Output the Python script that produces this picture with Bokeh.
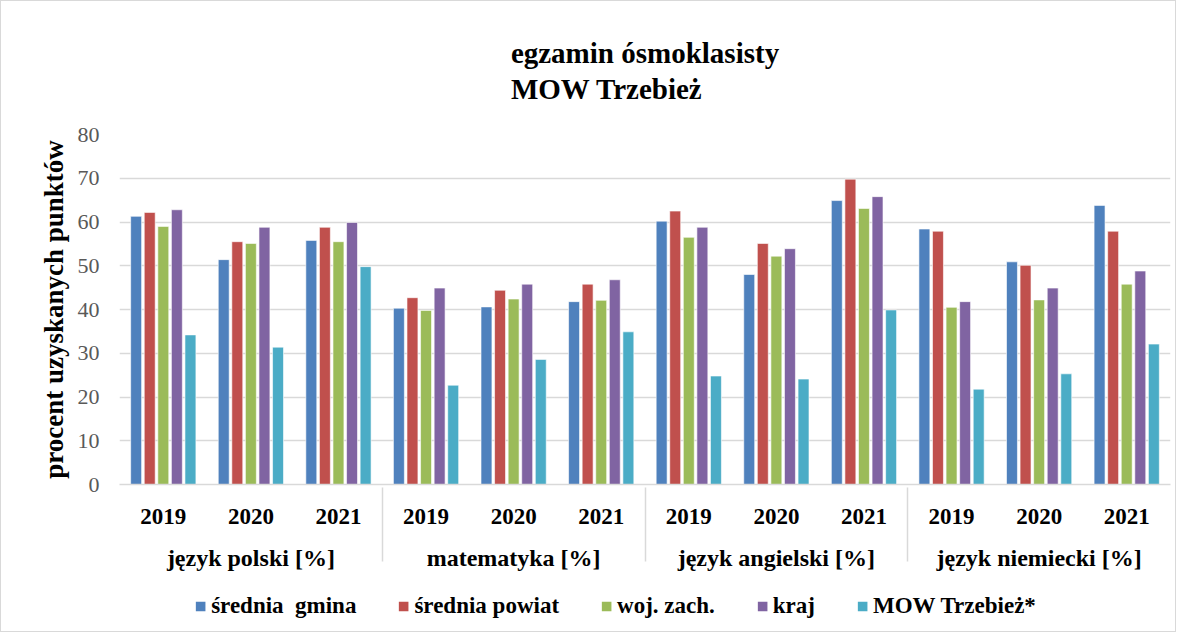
from bokeh.plotting import figure
from bokeh.models import FactorRange, ColumnDataSource, Legend, LegendItem, Title, FixedTicker, Range1d
from bokeh.layouts import column
from bokeh.transform import dodge
from bokeh.embed import file_html
from bokeh.resources import INLINE

subjects = ["język polski [%]", "matematyka [%]", "język angielski [%]", "język niemiecki [%]"]
years = ["2019", "2020", "2021"]
series_names = ["średnia  gmina", "średnia powiat", "woj. zach.", "kraj", "MOW Trzebież*"]
colors = ["#4F81BD", "#C0504D", "#9BBB59", "#8064A2", "#4BACC6"]

srednia_gmina = [61.3, 51.4, 55.8, 40.3, 40.6, 41.8, 60.2, 48.0, 64.9, 58.4, 50.9, 63.8]
srednia_powiat = [62.2, 55.5, 58.8, 42.7, 44.4, 45.8, 62.5, 55.1, 69.8, 57.9, 50.1, 57.9]
woj_zach = [59.0, 55.1, 55.5, 39.8, 42.4, 42.1, 56.5, 52.2, 63.1, 40.5, 42.2, 45.8]
kraj = [62.8, 58.8, 59.9, 44.9, 45.8, 46.8, 58.8, 53.9, 65.8, 41.8, 44.9, 48.8]
mow = [34.2, 31.4, 49.8, 22.7, 28.6, 34.9, 24.8, 24.1, 39.9, 21.8, 25.3, 32.1]

factors = [(s, y) for s in subjects for y in years]
values = [srednia_gmina, srednia_powiat, woj_zach, kraj, mow]
keys = ["g", "p", "w", "k", "m"]

data = {"x": factors}
for k, v in zip(keys, values):
    data[k] = v
src = ColumnDataSource(data)

SERIF = "Liberation Serif"

xr = FactorRange(*factors, group_padding=0, range_padding=0)
p = figure(x_range=xr, y_range=(0, 80), frame_width=1051, frame_height=350,
           output_backend="svg", toolbar_location=None,
           min_border_left=118, min_border_right=5, min_border_top=133, min_border_bottom=97)

offsets = [-0.31, -0.155, 0.0, 0.155, 0.31]
for k, c, off in zip(keys, colors, offsets):
    p.vbar(x=dodge("x", off, range=xr), top=k, width=0.125, source=src,
           fill_color=c, line_color="white", line_alpha=0.6, line_width=1)

p.add_layout(Title(text="egzamin ósmoklasisty\nMOW Trzebież", align="center", text_font=SERIF,
                   text_color="black", text_font_size="29px", text_font_style="bold",
                   text_line_height=1.15, standoff=58), "above")

p.outline_line_color = None

p.yaxis.ticker = FixedTicker(ticks=[0, 10, 20, 30, 40, 50, 60, 70, 80])
p.yaxis.axis_line_color = None
p.yaxis.major_tick_line_color = None
p.yaxis.minor_tick_line_color = None
p.yaxis.major_label_text_font = SERIF
p.yaxis.major_label_text_font_size = "22px"
p.yaxis.major_label_text_color = "#595959"
p.yaxis.major_label_standoff = 14
p.yaxis.axis_label = "procent uzyskanych punktów"
p.yaxis.axis_label_text_font = SERIF
p.yaxis.axis_label_text_font_size = "27px"
p.yaxis.axis_label_text_font_style = "bold"
p.yaxis.axis_label_text_color = "black"
p.yaxis.axis_label_standoff = 6

p.xaxis.axis_line_color = "#d9d9d9"
p.xaxis.axis_line_width = 1.5
p.xaxis.major_tick_line_color = None
p.xaxis.minor_tick_line_color = None
p.xaxis.major_label_text_font = SERIF
p.xaxis.major_label_text_font_size = "23px"
p.xaxis.major_label_text_font_style = "bold"
p.xaxis.major_label_text_color = "black"
p.xaxis.major_label_standoff = 18
p.xaxis.group_text_font = SERIF
p.xaxis.group_text_font_size = "24px"
p.xaxis.group_text_font_style = "bold"
p.xaxis.group_text_color = "black"
p.xaxis.separator_line_color = "#d9d9d9"
p.xaxis.separator_line_width = 1.5

p.xgrid.grid_line_color = None
p.ygrid.grid_line_color = "#d9d9d9"
p.ygrid.grid_line_width = 1.5

# legend strip below the chart (zero-width series renderers; only the legend shows)
p2 = figure(x_range=xr, y_range=Range1d(-20, -10), width=1174, height=50,
            output_backend="svg", toolbar_location=None,
            min_border_left=0, min_border_right=64, min_border_top=0, min_border_bottom=0)
p2.axis.visible = False
p2.grid.visible = False
p2.outline_line_color = None
leg_renderers = []
for k, c, off in zip(keys, colors, offsets):
    r = p2.vbar(x=dodge("x", off, range=xr), top=k, bottom=0, width=0, source=src,
                fill_color=c, line_alpha=0)
    leg_renderers.append(r)
legend = Legend(items=[LegendItem(label=n, renderers=[r]) for n, r in zip(series_names, leg_renderers)],
                orientation="horizontal", location="center",
                label_text_font=SERIF, label_text_font_style="bold", label_text_font_size="23px",
                label_text_color="black",
                glyph_width=12, glyph_height=12, spacing=41, label_standoff=5,
                border_line_color=None, background_fill_alpha=0, padding=2, margin=0)
p2.add_layout(legend)

layout = column(p, p2, spacing=0, styles={"border": "1px solid #d9d9d9"})

open("out.html", "w").write(file_html(layout, INLINE))
